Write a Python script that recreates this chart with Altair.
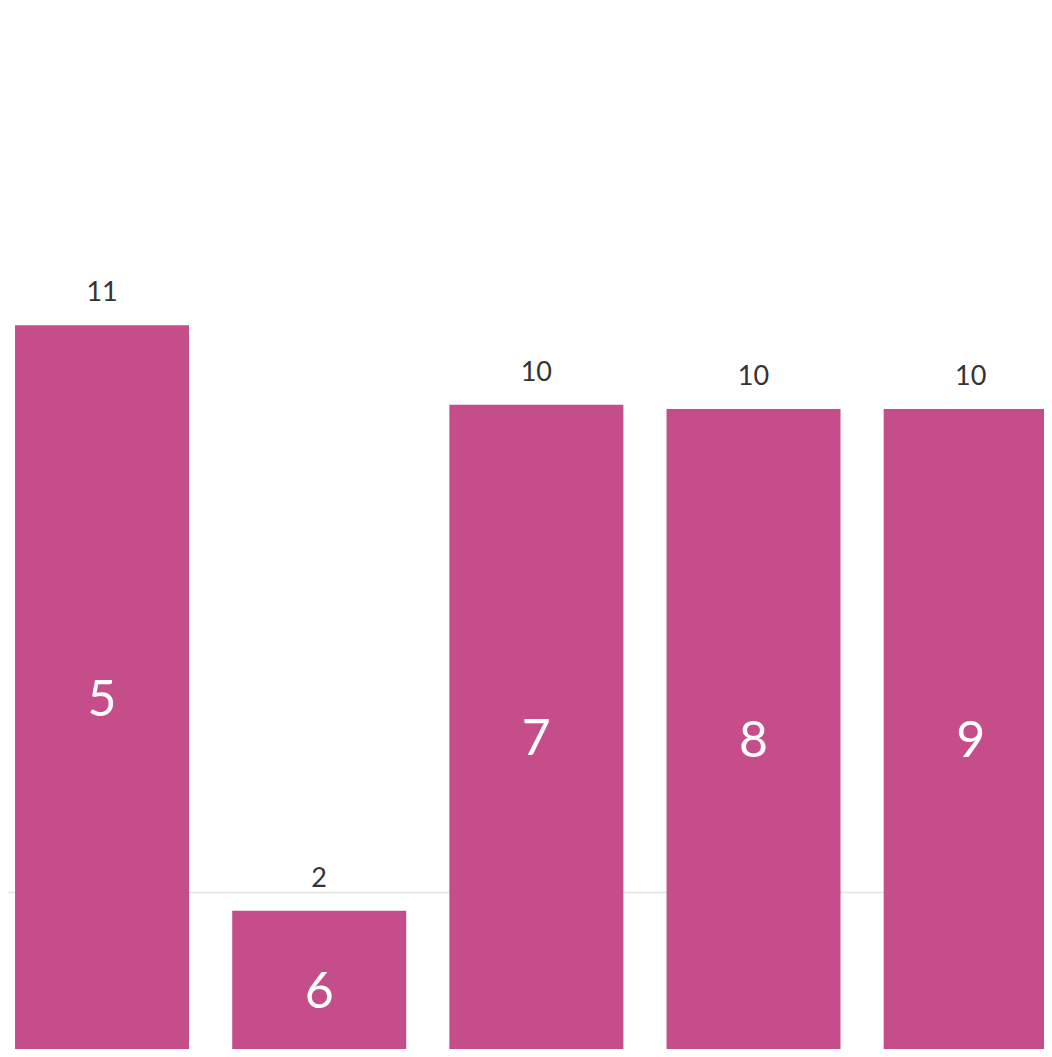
import altair as alt
import pandas as pd

# Data
categories = [5, 6, 7, 8, 9]
values = [11.04, 2.43, 9.87, 9.81, 9.81]
grid_values = [2.7]

df = pd.DataFrame({"cat": categories, "value": values})
df_grid = pd.DataFrame({"g": grid_values})

BAR_COLOR = "#C54E8A"

xs = alt.Scale(domain=[4.590, 9.3146], nice=False, zero=False)
ys = alt.Scale(domain=[0.397, 15.706], nice=False, zero=False)

x = alt.X("cat:Q", scale=xs, axis=None)

grid = alt.Chart(df_grid).mark_rule(color="#e4e4e4", strokeWidth=1.5).encode(
    y=alt.Y("g:Q", scale=ys, axis=None)
)

bars = alt.Chart(df).mark_bar(color=BAR_COLOR, size=174, clip=True).encode(
    x=x,
    y=alt.Y("value:Q", scale=ys, axis=None),
    y2=alt.datum(0),
)

top_labels = alt.Chart(df).mark_text(
    dy=-24, baseline="alphabetic", fontSize=27, font="Lato", color="#333333"
).encode(
    x=x,
    y=alt.Y("value:Q", scale=ys, axis=None),
    text=alt.Text("value:Q", format=".0f"),
)

inner_labels = alt.Chart(df).transform_calculate(
    mid="datum.value / 2"
).mark_text(
    baseline="middle", fontSize=50, font="Lato", color="white"
).encode(
    x=x,
    y=alt.Y("mid:Q", scale=ys, axis=None),
    text=alt.Text("cat:N"),
)

chart = alt.layer(grid, bars, top_labels, inner_labels).properties(
    width=1036,
    height=1041,
    padding=0,
    autosize=alt.AutoSizeParams(type="none"),
    background="white",
).configure_view(stroke=None)

chart.save("out.html", embed_options={"renderer": "svg", "actions": False})
